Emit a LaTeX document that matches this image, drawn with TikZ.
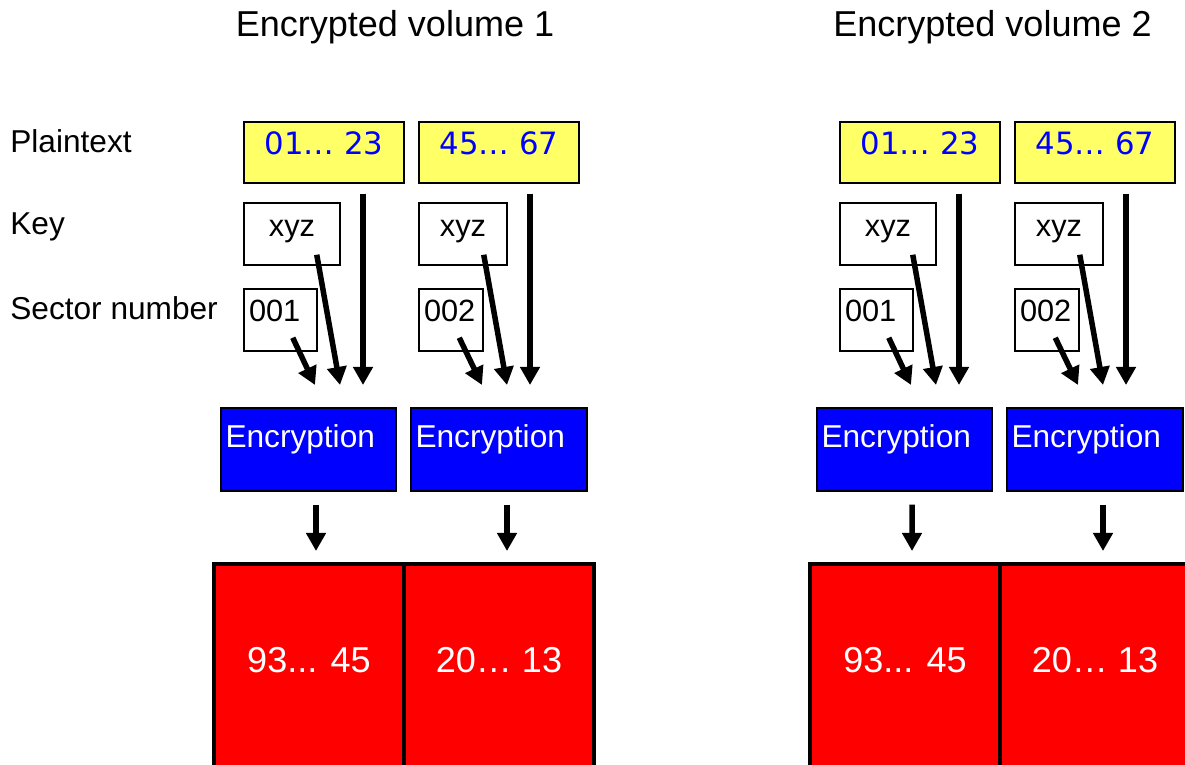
\documentclass[tikz,border=0pt]{standalone}
\usepackage{fontspec}
\setmainfont{Liberation Sans}
\newfontfamily\plainfont{DejaVu Sans}
\usetikzlibrary{arrows.meta}
\definecolor{plainyellow}{RGB}{255,255,102}

\begin{document}
\begin{tikzpicture}[
    sidelabel/.style={anchor=base west, inner sep=0pt, font=\fontsize{18}{21}\selectfont},
    voltitle/.style={anchor=base, inner sep=0pt, font=\fontsize{20.5}{24}\selectfont},
    plainbox/.style={draw=black, line width=0.030000cm, fill=plainyellow, text=blue,
      minimum width=3.200000cm, inner sep=0pt, text height=0.660000cm, text depth=0.560000cm,
      font=\plainfont\fontsize{17.5}{21}\selectfont},
    keybox/.style={draw=black, line width=0.030000cm, inner sep=0pt,
      text height=0.680000cm, text depth=0.560000cm, font=\fontsize{17.5}{21}\selectfont},
    sectorbox/.style={draw=black, line width=0.030000cm, inner xsep=0.100000cm, inner ysep=0pt,
      align=left, text height=0.660000cm, text depth=0.580000cm, font=\fontsize{17.5}{21}\selectfont},
    encbox/.style={draw=black, line width=0.030000cm, fill=blue, text=white, inner xsep=0.090000cm,
      inner ysep=0pt, align=left, text height=0.800000cm, text depth=0.860000cm,
      font=\fontsize{18}{21}\selectfont},
    cell/.style={draw=black, line width=0.080000cm, fill=red, text=white, minimum width=3.800000cm,
      inner sep=0pt, text height=2.180000cm, text depth=2.540000cm, font=\fontsize{20.5}{24}\selectfont},
    flow/.style={line width=0.110000cm, -{Triangle[length=0.360000cm, width=0.380000cm]}}
  ]
  \path[use as bounding box] (0,0) rectangle (23.700000,15.300000);
  \clip (0,0) rectangle (23.700000,15.300000);

  % Marking titles
  \node [voltitle] (title1) at (7.900000,14.560000) {Encrypted volume 1};%
  \node [voltitle] (title2) at (19.850000,14.560000) {Encrypted volume 2};%

  % Marking row names
  \node [sidelabel] (rowplain) at (0.200000,12.240000) {Plaintext};%
  \node [sidelabel] (rowkey) at (0.200000,10.600000) {Key};%
  \node [sidelabel] (rowsector) at (0.200000,8.900000) {Sector number};%

  % Drawing volume 1, sector 1
  \node [plainbox] (plain1) at (6.480000,12.250000) {01… 23};%
  \node [keybox, minimum width=1.920000cm] (key1) at (5.840000,10.620000) {xyz};%
  \node [sectorbox, text width=1.260000cm] (sec1) at (5.610000,8.900000) {001};%
  \node [encbox, text width=3.320000cm] (enc1) at (6.170000,6.310000) {Encryption};%
  \node [cell] (cell1) at (6.180000,1.660000) {93... 45};%
  \coordinate (in1a) at (6.300000,7.600000);%
  \coordinate (in1b) at (6.800000,7.600000);%
  \coordinate (in1c) at (7.260000,7.600000);%

  % Drawing volume 1, sector 2
  \node [plainbox] (plain2) at (9.980000,12.250000) {45… 67};%
  \node [keybox, minimum width=1.760000cm] (key2) at (9.260000,10.620000) {xyz};%
  \node [sectorbox, text width=1.080000cm] (sec2) at (9.020000,8.900000) {002};%
  \node [encbox, text width=3.340000cm] (enc2) at (9.980000,6.310000) {Encryption};%
  \node [cell] (cell2) at (9.980000,1.660000) {20… 13};%
  \coordinate (in2a) at (9.640000,7.600000);%
  \coordinate (in2b) at (10.140000,7.600000);%
  \coordinate (in2c) at (10.600000,7.600000);%

  % Drawing volume 2, sector 1
  \node [plainbox] (plain3) at (18.400000,12.250000) {01… 23};%
  \node [keybox, minimum width=1.920000cm] (key3) at (17.760000,10.620000) {xyz};%
  \node [sectorbox, text width=1.260000cm] (sec3) at (17.530000,8.900000) {001};%
  \node [encbox, text width=3.320000cm] (enc3) at (18.090000,6.310000) {Encryption};%
  \node [cell] (cell3) at (18.100000,1.660000) {93... 45};%
  \coordinate (in3a) at (18.220000,7.600000);%
  \coordinate (in3b) at (18.720000,7.600000);%
  \coordinate (in3c) at (19.180000,7.600000);%

  % Drawing volume 2, sector 2
  \node [plainbox] (plain4) at (21.900000,12.250000) {45… 67};%
  \node [keybox, minimum width=1.760000cm] (key4) at (21.180000,10.620000) {xyz};%
  \node [sectorbox, text width=1.080000cm] (sec4) at (20.940000,8.900000) {002};%
  \node [encbox, text width=3.340000cm] (enc4) at (21.900000,6.310000) {Encryption};%
  \node [cell] (cell4) at (21.900000,1.660000) {20… 13};%
  \coordinate (in4a) at (21.560000,7.600000);%
  \coordinate (in4b) at (22.060000,7.600000);%
  \coordinate (in4c) at (22.520000,7.600000);%

  % Drawing inputs of each encryption
  \draw [flow] ([shift={(-0.500000,0.280000)}]sec1.south east) -- (in1a);%
  \draw [flow] ([shift={(-0.480000,0.220000)}]key1.south east) -- (in1b);%
  \draw [flow, shorten <=0.200000cm] (plain1.south -| in1c) -- (in1c);%
  \draw [flow] ([shift={(-0.490000,0.280000)}]sec2.south east) -- (in2a);%
  \draw [flow] ([shift={(-0.480000,0.220000)}]key2.south east) -- (in2b);%
  \draw [flow, shorten <=0.200000cm] (plain2.south -| in2c) -- (in2c);%
  \draw [flow] ([shift={(-0.500000,0.280000)}]sec3.south east) -- (in3a);%
  \draw [flow] ([shift={(-0.480000,0.220000)}]key3.south east) -- (in3b);%
  \draw [flow, shorten <=0.200000cm] (plain3.south -| in3c) -- (in3c);%
  \draw [flow] ([shift={(-0.490000,0.280000)}]sec4.south east) -- (in4a);%
  \draw [flow] ([shift={(-0.480000,0.220000)}]key4.south east) -- (in4b);%
  \draw [flow, shorten <=0.200000cm] (plain4.south -| in4c) -- (in4c);%

  % Drawing outputs of each encryption
  \draw [flow, shorten <=0.260000cm, shorten >=0.220000cm] ([xshift=0.150000cm]enc1.south) -- ([xshift=0.140000cm]cell1.north);%
  \draw [flow, shorten <=0.260000cm, shorten >=0.220000cm] ([xshift=0.160000cm]enc2.south) -- ([xshift=0.160000cm]cell2.north);%
  \draw [flow, shorten <=0.260000cm, shorten >=0.220000cm] ([xshift=0.150000cm]enc3.south) -- ([xshift=0.140000cm]cell3.north);%
  \draw [flow, shorten <=0.260000cm, shorten >=0.220000cm] ([xshift=0.160000cm]enc4.south) -- ([xshift=0.160000cm]cell4.north);%
\end{tikzpicture}
\end{document}
